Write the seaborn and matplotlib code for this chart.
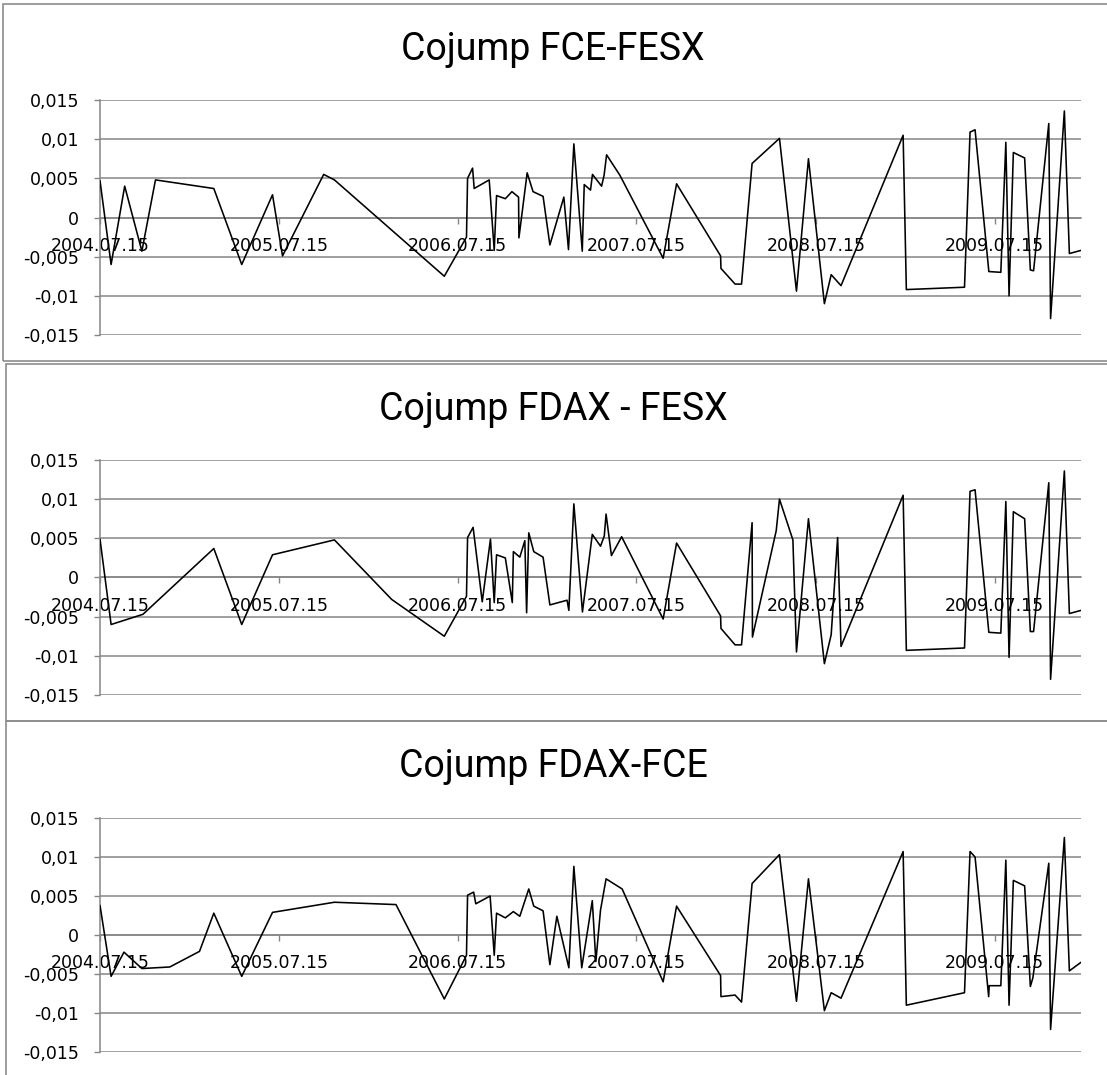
import numpy as np
import pandas as pd
import matplotlib
matplotlib.use("Agg")
import matplotlib.pyplot as plt
import seaborn as sns
from matplotlib.patches import Rectangle
from matplotlib import font_manager

# ---------------- data (x = years after 2004.07.15) ----------------
titles = ["Cojump FCE-FESX", "Cojump FDAX - FESX", "Cojump FDAX-FCE"]

fce_fesx_t = [0, 0.062, 0.138, 0.234, 0.31, 0.636, 0.792, 0.964, 1.02, 1.25,
              1.31, 1.924, 2.048, 2.054, 2.082, 2.091, 2.175, 2.203, 2.216, 2.265,
              2.302, 2.339, 2.341, 2.387, 2.42, 2.476, 2.514, 2.592, 2.618, 2.648,
              2.695, 2.706, 2.741, 2.752, 2.803, 2.817, 2.831, 2.905, 3.147, 3.222,
              3.468, 3.47, 3.549, 3.585, 3.644, 3.797, 3.892, 3.959, 4.048, 4.086,
              4.141, 4.488, 4.506, 4.831, 4.862, 4.89, 4.967, 5.034, 5.062, 5.08,
              5.104, 5.167, 5.199, 5.217, 5.302, 5.312, 5.389, 5.417, 5.482]
fce_fesx_v = [0.0047, -0.006, 0.004, -0.0043, 0.0048, 0.0037, -0.006, 0.0029, -0.0049, 0.0055,
              0.0048, -0.0075, -0.0025, 0.005, 0.0063, 0.0037, 0.0048, -0.0042, 0.0028, 0.0024,
              0.0033, 0.0026, -0.0026, 0.0057, 0.0033, 0.0027, -0.0035, 0.0026, -0.0041, 0.0094,
              -0.0043, 0.0042, 0.0035, 0.0055, 0.0040, 0.0054, 0.0080, 0.0054, -0.0052, 0.0043,
              -0.0049, -0.0065, -0.0085, -0.0085, 0.0069, 0.0101, -0.0094, 0.0075, -0.0110, -0.0073,
              -0.0087, 0.0105, -0.0092, -0.0089, 0.0109, 0.0112, -0.0069, -0.0070, 0.0096, -0.0100,
              0.0083, 0.0076, -0.0067, -0.0068, 0.0120, -0.0129, 0.0136, -0.0046, -0.0042]

fdax_fesx_t = [0, 0.062, 0.24, 0.636, 0.792, 0.964, 1.31, 1.63, 1.924, 2.048,
               2.054, 2.085, 2.136, 2.182, 2.203, 2.216, 2.265, 2.304, 2.31, 2.346,
               2.374, 2.384, 2.396, 2.424, 2.476, 2.514, 2.61, 2.62, 2.648, 2.696,
               2.751, 2.797, 2.818, 2.828, 2.858, 2.915, 3.147, 3.222, 3.468, 3.47,
               3.549, 3.585, 3.644, 3.646, 3.779, 3.797, 3.872, 3.892, 3.959, 4.048,
               4.086, 4.122, 4.141, 4.488, 4.506, 4.831, 4.862, 4.89, 4.967, 5.034,
               5.062, 5.08, 5.104, 5.167, 5.199, 5.217, 5.302, 5.312, 5.389, 5.417,
               5.482]
fdax_fesx_v = [0.0049, -0.006, -0.0047, 0.0037, -0.006, 0.0029, 0.0048, -0.0028, -0.0075, -0.0024,
               0.0051, 0.0064, -0.0031, 0.0049, -0.0032, 0.0029, 0.0025, -0.0032, 0.0033, 0.0026,
               0.0047, -0.0045, 0.0057, 0.0033, 0.0026, -0.0035, -0.0029, -0.0042, 0.0094, -0.0044,
               0.0055, 0.0040, 0.0053, 0.0081, 0.0028, 0.0052, -0.0053, 0.0044, -0.0049, -0.0065,
               -0.0086, -0.0086, 0.0070, -0.0076, 0.0060, 0.0100, 0.0048, -0.0095, 0.0075, -0.0110,
               -0.0073, 0.0051, -0.0088, 0.0105, -0.0093, -0.0090, 0.0110, 0.0112, -0.0070, -0.0071,
               0.0097, -0.0102, 0.0084, 0.0075, -0.0069, -0.0069, 0.0121, -0.0130, 0.0136, -0.0046,
               -0.0042]

fdax_fce_t = [0, 0.062, 0.134, 0.234, 0.39, 0.556, 0.636, 0.792, 0.964, 1.31,
              1.654, 1.924, 2.048, 2.054, 2.088, 2.1, 2.18, 2.203, 2.216, 2.265,
              2.31, 2.346, 2.396, 2.424, 2.476, 2.514, 2.553, 2.62, 2.648, 2.692,
              2.751, 2.771, 2.797, 2.828, 2.918, 3.147, 3.222, 3.468, 3.47, 3.549,
              3.585, 3.644, 3.797, 3.892, 3.959, 4.048, 4.086, 4.141, 4.488, 4.506,
              4.831, 4.862, 4.89, 4.966, 4.969, 5.034, 5.062, 5.08, 5.104, 5.167,
              5.199, 5.213, 5.302, 5.312, 5.389, 5.417, 5.482]
fdax_fce_v = [0.0038, -0.0053, -0.0022, -0.0043, -0.0041, -0.0021, 0.0028, -0.0053, 0.0029, 0.0042,
              0.0039, -0.0082, -0.0026, 0.0051, 0.0055, 0.0040, 0.0050, -0.0026, 0.0028, 0.0022,
              0.0030, 0.0024, 0.0059, 0.0037, 0.0031, -0.0038, 0.0024, -0.0042, 0.0088, -0.0042,
              0.0044, -0.0034, 0.0032, 0.0072, 0.0059, -0.0060, 0.0037, -0.0052, -0.0079, -0.0077,
              -0.0086, 0.0066, 0.0103, -0.0085, 0.0072, -0.0097, -0.0074, -0.0081, 0.0107, -0.0090,
              -0.0074, 0.0107, 0.0100, -0.0079, -0.0065, -0.0065, 0.0096, -0.0090, 0.0070, 0.0063,
              -0.0066, -0.0055, 0.0092, -0.0121, 0.0125, -0.0046, -0.0035]

x_tick_dates = ["2004-07-15", "2005-07-15", "2006-07-15", "2007-07-15", "2008-07-15", "2009-07-15"]
x_tick_labels = ["2004.07.15", "2005.07.15", "2006.07.15", "2007.07.15", "2008.07.15", "2009.07.15"]
y_ticks = [-0.015, -0.01, -0.005, 0, 0.005, 0.01, 0.015]
y_tick_labels = ["-0,015", "-0,01", "-0,005", "0", "0,005", "0,01", "0,015"]

start_date = "2004-07-15"
x_end_years = 5.482

# ---------------- style ----------------
sns.set_style("white")
avail = {f.name for f in font_manager.fontManager.ttflist}
if "Liberation Sans Narrow" in avail:
    title_font, title_size = ["Liberation Sans Narrow"], 28
elif "Roboto" in avail:
    title_font, title_size = ["Roboto"], 27
else:
    title_font, title_size = ["Liberation Sans"], 25
plt.rcParams["font.family"] = ["DejaVu Sans"]

W, H = 1107, 1075
fig = plt.figure(figsize=(W / 100, H / 100), dpi=100)
fig.patch.set_facecolor("white")

GRID = "#868686"
BORDER = "#8c8c8c"

panels = [
    (fce_fesx_t, fce_fesx_v, 100, 335, 60, (3, 4, 361)),
    (fdax_fesx_t, fdax_fesx_v, 460, 695, 420, (6, 364, 721)),
    (fdax_fce_t, fdax_fce_v, 818, 1052, 777, (6, 721, 1085)),
]

t0 = pd.Timestamp(start_date)
left_px, right_px = 100, 1081

for (ts, vs, top_px, bot_px, title_y, (bx, by0, by1)), title in zip(panels, titles):
    # chart border
    fig.patches.append(Rectangle((bx / W, 1 - by1 / H), (W + 10 - bx) / W, (by1 - by0) / H,
                                 transform=fig.transFigure, fill=False,
                                 edgecolor=BORDER, linewidth=1.2, zorder=0))
    ax = fig.add_axes([left_px / W, 1 - bot_px / H, (right_px - left_px) / W, (bot_px - top_px) / H])
    ax.set_facecolor("none")
    df = pd.DataFrame({"date": t0 + pd.to_timedelta(np.array(ts) * 365.25, unit="D"),
                       "value": vs})
    sns.lineplot(data=df, x="date", y="value", ax=ax, color="black", linewidth=1.15,
                 estimator=None, sort=False, zorder=3)
    ax.set_xlim(t0, t0 + pd.Timedelta(days=x_end_years * 365.25))
    ax.set_ylim(-0.015, 0.015)
    ax.set_xlabel("")
    ax.set_ylabel("")

    ax.set_yticks(y_ticks)
    ax.set_yticklabels(y_tick_labels)
    ax.set_xticks(pd.to_datetime(x_tick_dates))
    ax.set_xticklabels(x_tick_labels)

    ax.yaxis.grid(True, color=GRID, linewidth=1.1, zorder=1)
    ax.xaxis.grid(False)
    ax.set_axisbelow(True)

    for s in ("top", "right"):
        ax.spines[s].set_visible(False)
    ax.spines["left"].set_color(GRID)
    ax.spines["left"].set_linewidth(1.1)
    ax.spines["bottom"].set_position(("data", 0))
    ax.spines["bottom"].set_color(GRID)
    ax.spines["bottom"].set_linewidth(1.1)

    ax.tick_params(axis="y", which="major", direction="out", length=4.5, width=1.0,
                   color=GRID, pad=10.5, labelsize=12.5, labelcolor="black", left=True)
    ax.tick_params(axis="x", which="major", direction="out", length=4.0, width=1.0,
                   color=GRID, pad=10, labelsize=12.5, labelcolor="black", bottom=True)
    ax.tick_params(axis="x", which="minor", bottom=False)

    fig.text(553 / W, 1 - title_y / H, title, ha="center", va="baseline",
             fontsize=title_size, family=title_font, color="black")

fig.savefig("out.png", dpi=100, facecolor="white")
